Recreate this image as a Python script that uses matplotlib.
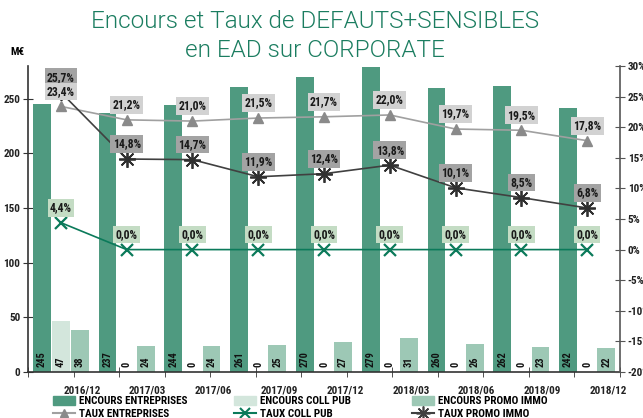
import numpy as np
import matplotlib
matplotlib.use('Agg')
import matplotlib.pyplot as plt
from matplotlib.patches import Patch
from matplotlib.lines import Line2D

# Donnees
dates = ['2016/12', '2017/03', '2017/06', '2017/09', '2017/12',
         '2018/03', '2018/06', '2018/09', '2018/12']
enc_entreprises = [245, 237, 244, 261, 270, 279, 260, 262, 242]
enc_coll_pub = [47, 0, 0, 0, 0, 0, 0, 0, 0]
enc_promo_immo = [38, 24, 24, 25, 27, 31, 26, 23, 22]
taux_entreprises = [23.4, 21.2, 21.0, 21.5, 21.7, 22.0, 19.7, 19.5, 17.8]
taux_coll_pub = [4.4, 0.0, 0.0, 0.0, 0.0, 0.0, 0.0, 0.0, 0.0]
taux_promo_immo = [25.7, 14.8, 14.7, 11.9, 12.4, 13.8, 10.1, 8.5, 6.8]

plt.rcParams['font.family'] = ['Roboto Condensed', 'DejaVu Sans']
plt.rcParams['font.weight'] = 'bold'

c_ent = '#4f9a80'
c_coll = '#d3e6dc'
c_promo = '#9dc8b5'
c_title = '#1b7d60'

fig = plt.figure(figsize=(6.43, 4.18), dpi=100)
ax = fig.add_axes([28/643, 46/418, 592/643, 306/418])
ax2 = ax.twinx()

x = np.arange(len(dates))
w = 0.27
off = 0.29
b1 = ax.bar(x - off, enc_entreprises, w, color=c_ent, zorder=2)
b2 = ax.bar(x, enc_coll_pub, w, color=c_coll, zorder=2)
b3 = ax.bar(x + off, enc_promo_immo, w, color=c_promo, zorder=2)

# valeurs en bas des barres
for bars, vals in [(b1, enc_entreprises), (b2, enc_coll_pub), (b3, enc_promo_immo)]:
    for b, v in zip(bars, vals):
        ax.text(b.get_x() + b.get_width()/2, 5, str(v), rotation=90,
                ha='center', va='bottom', fontsize=7.5, fontweight='bold',
                color='#111111', zorder=3)

ax.set_xlim(-0.5, 8.5)
ax.set_ylim(0, 280)
ax.set_yticks([0, 50, 100, 150, 200, 250])
ax.set_xticks(x + 0.32)
ax.set_xticklabels(dates)
ax.set_xticks(np.linspace(-0.5, 8.5, 14), minor=True)
ax.tick_params(axis='x', which='major', length=0, pad=10, labelsize=8, labelcolor='#222222')
ax.tick_params(axis='x', which='minor', length=7, direction='inout', color='#333333')
ax.tick_params(axis='y', length=7, direction='inout', labelsize=8, color='#333333',
               labelcolor='#222222', pad=2)
for s in ['top', 'right']:
    ax.spines[s].set_visible(False)
for s in ['left', 'bottom']:
    ax.spines[s].set_color('#333333')
    ax.spines[s].set_linewidth(1.2)

# Taux
ax2.plot(x, taux_entreprises, color='#a0a0a0', lw=1.2, marker='^', ms=7,
         mfc='#8a8a8a', mec='#8a8a8a', zorder=4)
ax2.plot(x, taux_promo_immo, color='#404040', lw=1.2, marker=(8, 2, 0), ms=12,
         mec='#303030', mew=1.3, zorder=4)
ax2.plot(x, taux_coll_pub, color='#0b7a5a', lw=1.2, marker='x', ms=8,
         mew=1.6, zorder=4)
ax2.set_ylim(-20, 30)
ax2.set_yticks(range(-20, 31, 5))
ax2.set_yticklabels([f'{t}%' for t in range(-20, 31, 5)])
ax2.tick_params(axis='y', length=7, direction='inout', labelsize=8, color='#555555',
                labelcolor='#222222', pad=2)
for s in ['top', 'left', 'bottom']:
    ax2.spines[s].set_visible(False)
ax2.spines['right'].set_color('#555555')
ax2.spines['right'].set_linewidth(1.2)

def labels(vals, fc):
    for xi, v in zip(x, vals):
        ax2.annotate(f'{v:.1f}%'.replace('.', ','), (xi, v), xytext=(0, 15),
                     textcoords='offset pixels', ha='center', va='center',
                     fontsize=8.5, fontweight='bold', color='#1a1a1a', zorder=6,
                     bbox=dict(boxstyle='square,pad=0.2', fc=fc, ec='none'))

labels(taux_promo_immo, '#a3a3a3')
labels(taux_entreprises, '#d2d2d2')
labels(taux_coll_pub, '#c4dcc4')

fig.text(10/643, 1 - 52/418, 'M€', fontsize=8, fontweight='bold', ha='left', va='center')

fig.text(315/643, 1 - 22/418, 'Encours et Taux de DEFAUTS+SENSIBLES', fontsize=17.5,
         family=['Roboto', 'DejaVu Sans'], fontweight=300, color=c_title,
         ha='center', va='center')
fig.text(315/643, 1 - 50/418, 'en EAD sur CORPORATE', fontsize=17.5,
         family=['Roboto', 'DejaVu Sans'], fontweight=300, color=c_title,
         ha='center', va='center')

# Legende en trois colonnes
cols = [
    [Patch(color=c_ent, label='ENCOURS ENTREPRISES'),
     Line2D([], [], color='#a0a0a0', marker='^', mfc='#8a8a8a', mec='#8a8a8a', ms=6,
            label='TAUX ENTREPRISES')],
    [Patch(color=c_coll, label='ENCOURS COLL PUB'),
     Line2D([], [], color='#0b7a5a', marker='x', ms=7, mew=1.5, label='TAUX COLL PUB')],
    [Patch(color=c_promo, label='ENCOURS PROMO IMMO'),
     Line2D([], [], color='#404040', marker=(8, 2, 0), ms=10, mew=1.2, label='TAUX PROMO IMMO')],
]
for hx, hs in zip([53, 234, 412], cols):
    fig.legend(handles=hs, loc='upper left', bbox_to_anchor=(hx/643, 1 - 396/418),
               frameon=False, fontsize=8, handlelength=2.0, handleheight=0.8,
               handletextpad=0.3, labelspacing=0.25, borderpad=0, borderaxespad=0)

plt.savefig('out.png', dpi=100)
